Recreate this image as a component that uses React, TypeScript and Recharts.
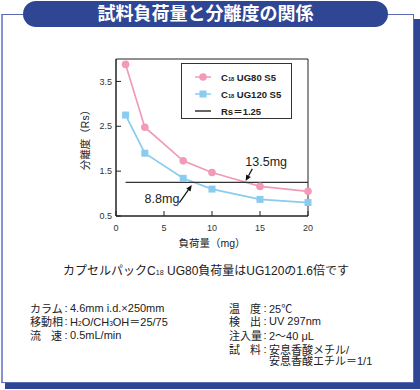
import { LineChart, Line, XAxis, YAxis, Legend, ReferenceLine, ReferenceArea } from "recharts"

// loading (mg) vs resolution (Rs)
const loads = [1, 3, 7, 10, 15, 20]
const rsUG80 = [3.88, 2.48, 1.73, 1.47, 1.16, 1.05]
const rsUG120 = [2.75, 1.9, 1.34, 1.1, 0.87, 0.8]
const rsLimit = 1.25
const limitLoads = [1, 20]
const xTicks = [0, 5, 10, 15, 20]
const yTicks = [0.5, 1.5, 2.5, 3.5]
const legendOrder = ["rs80", "rs120", "rs"]

const PINK = "#F29BB8"
const BLUE = "#8ACCEF"
const NAVY = "#2F4694"
const INK = "#222"
const FONT = '"Liberation Sans", Arial, "Noto Sans CJK JP", sans-serif'

const ug80Data = loads.map((load, i) => ({ load, rs80: rsUG80[i] }))
const ug120Data = loads.map((load, i) => ({ load, rs120: rsUG120[i] }))
const limitData = limitLoads.map((load) => ({ load, rs: rsLimit }))

function Sub({ children }: { children: any }) {
  return <span style={{ fontSize: "0.6em" }}>{children}</span>
}

function seriesName(name: string) {
  if (name.startsWith("C18")) {
    return (
      <>
        C<Sub>18</Sub>
        {name.slice(3)}
      </>
    )
  }
  return name
}

function LegendBox({ payload }: any) {
  const items = [...(payload || [])].sort(
    (a: any, b: any) => legendOrder.indexOf(a.dataKey) - legendOrder.indexOf(b.dataKey)
  )
  return (
    <div
      style={{
        border: "1px solid #333",
        boxSizing: "border-box",
        width: 111,
        height: 56,
        padding: "5px 0 0 13px",
        background: "#fff",
      }}
    >
      {items.map((entry: any) => (
        <div key={entry.value} style={{ display: "flex", alignItems: "center", height: 16.7 }}>
          <svg width={16} height={10} style={{ overflow: "visible" }}>
            <line x1={0} y1={5} x2={16} y2={5} stroke={entry.color} strokeWidth={1.5} />
            {entry.dataKey === "rs80" && <circle cx={8} cy={5} r={3.8} fill={PINK} />}
            {entry.dataKey === "rs120" && <rect x={4.5} y={1.5} width={7} height={7} fill={BLUE} />}
          </svg>
          <span style={{ marginLeft: 10, fontSize: 9.5, fontWeight: "bold", color: INK, whiteSpace: "nowrap" }}>
            {seriesName(entry.value)}
          </span>
        </div>
      ))}
    </div>
  )
}

function arrowShape(text: string, dx: number, dy: number, anchor: string) {
  return (p: any) => {
    const { x1, y1, x2, y2 } = p
    const a = Math.atan2(y2 - y1, x2 - x1)
    const c = Math.cos(a)
    const s = Math.sin(a)
    const bx = x2 - 6 * c
    const by = y2 - 6 * s
    const pts = `${x2},${y2} ${bx - 2.6 * s},${by + 2.6 * c} ${bx + 2.6 * s},${by - 2.6 * c}`
    return (
      <g>
        <line x1={x1} y1={y1} x2={bx} y2={by} stroke="#111" strokeWidth={1.2} />
        <polygon points={pts} fill="#111" />
        <text x={x1 + dx} y={y1 + dy} textAnchor={anchor} fontSize={12.5} fill={INK}>
          {text}
        </text>
      </g>
    )
  }
}

function Row({ label, children }: { label: string; children: any }) {
  return (
    <div style={{ display: "flex", alignItems: "center", height: 13.6, whiteSpace: "nowrap" }}>
      <span style={{ display: "inline-block", width: 32, textAlign: "justify", textAlignLast: "justify" }}>{label}</span>
      <span style={{ display: "inline-block", width: 8, textAlign: "center" }}>:</span>
      <span>{children}</span>
    </div>
  )
}

export default function App() {
  return (
    <div
      style={{
        position: "absolute",
        left: 0,
        top: 0,
        width: 420,
        height: 390,
        overflow: "hidden",
        background: "#fff",
        fontFamily: FONT,
        color: INK,
      }}
    >
      {/* card shadow + frame */}
      <div style={{ position: "absolute", left: 5, top: 19, width: 415, height: 370, background: NAVY }} />
      <div
        style={{
          position: "absolute",
          left: 1,
          top: 14,
          width: 413,
          height: 369,
          boxSizing: "border-box",
          border: "1px solid #5A6BB0",
          borderLeft: "2px solid #8594CC",
          background: "#fff",
        }}
      />
      <div
        style={{
          position: "absolute",
          left: 23,
          top: 1,
          width: 365,
          height: 26,
          borderRadius: 13,
          background: NAVY,
          color: "#fff",
          fontWeight: "bold",
          fontSize: 18,
          lineHeight: "26px",
          textAlign: "center",
        }}
      >
        試料負荷量と分離度の関係
      </div>

      <div style={{ position: "absolute", left: 60, top: 40 }}>
        <LineChart width={280} height={220} margin={{ top: 19, right: 32, bottom: 24, left: 26 }}>
          <XAxis
            dataKey="load"
            type="number"
            domain={[0, 20]}
            ticks={xTicks}
            height={20}
            allowDuplicatedCategory={false}
            tick={{ fontSize: 9, fill: "#333" }}
            tickSize={-5}
            tickMargin={14}
            stroke={INK}
            label={(p: any) => {
              const vb = p.viewBox
              return (
                <text x={vb.x + vb.width / 2} y={vb.y + vb.height + 11} textAnchor="middle" fontSize={10.5} fill={INK}>
                  負荷量（mg）
                </text>
              )
            }}
          />
          <YAxis
            type="number"
            domain={[0.5, 4]}
            ticks={yTicks}
            width={30}
            tick={{ fontSize: 9, fill: "#333" }}
            tickSize={-5}
            tickMargin={9}
            stroke={INK}
            label={(p: any) => {
              const vb = p.viewBox
              const x = vb.x + 3
              const y = vb.y + vb.height / 2
              return (
                <text x={x} y={y} transform={`rotate(-90 ${x} ${y})`} textAnchor="middle" fontSize={10.5} fill={INK}>
                  分離度（Rs）
                </text>
              )
            }}
          />
          <ReferenceArea x1={0} x2={20} y1={0.5} y2={4} fill="none" stroke={INK} strokeWidth={1} />
          <Line
            data={ug80Data}
            dataKey="rs80"
            name="C18 UG80 S5"
            stroke={PINK}
            strokeWidth={1.7}
            isAnimationActive={false}
            dot={(p: any) => <circle key={`p${p.index}`} cx={p.cx} cy={p.cy} r={3.8} fill={PINK} />}
          />
          <Line
            data={ug120Data}
            dataKey="rs120"
            name="C18 UG120 S5"
            stroke={BLUE}
            strokeWidth={1.7}
            isAnimationActive={false}
            dot={(p: any) => (
              <rect key={`b${p.index}`} x={p.cx - 3.5} y={p.cy - 3.5} width={7} height={7} fill={BLUE} />
            )}
          />
          <Line
            data={limitData}
            dataKey="rs"
            name="Rs＝1.25"
            stroke="#333"
            strokeWidth={1.2}
            dot={false}
            isAnimationActive={false}
          />
          <ReferenceLine
            segment={[
              { x: 14.2, y: 1.55 },
              { x: 13.5, y: 1.28 },
            ]}
            shape={arrowShape("13.5mg", -7, -3, "start")}
          />
          <ReferenceLine
            segment={[
              { x: 6.6, y: 0.8 },
              { x: 7.9, y: 1.19 },
            ]}
            shape={arrowShape("8.8mg", 0, 0, "end")}
          />
          <Legend
            layout="vertical"
            align="center"
            verticalAlign="middle"
            content={LegendBox}
            wrapperStyle={{ left: 121, top: 23, width: 111, height: 56, margin: 0 }}
          />
        </LineChart>
      </div>

      <div style={{ position: "absolute", left: 0, top: 263, width: 412, textAlign: "center", fontSize: 12, lineHeight: "16px" }}>
        カプセルパックC<Sub>18</Sub> UG80負荷量はUG120の1.6倍です
      </div>

      <div style={{ position: "absolute", left: 30, top: 301, fontSize: 11 }}>
        <Row label="カラム">4.6mm i.d.×250mm</Row>
        <Row label="移動相">
          H<Sub>2</Sub>O/CH<Sub>3</Sub>OH＝25/75
        </Row>
        <Row label="流速">0.5mL/min</Row>
      </div>

      <div style={{ position: "absolute", left: 229, top: 301, fontSize: 11 }}>
        <Row label="温度">25℃</Row>
        <Row label="検出">UV 297nm</Row>
        <Row label="注入量">2～40 μL</Row>
        <Row label="試料">安息香酸メチル/</Row>
        <div style={{ height: 13.6, lineHeight: "13.6px", paddingLeft: 40, whiteSpace: "nowrap" }}>安息香酸エチル＝1/1</div>
      </div>
    </div>
  )
}
